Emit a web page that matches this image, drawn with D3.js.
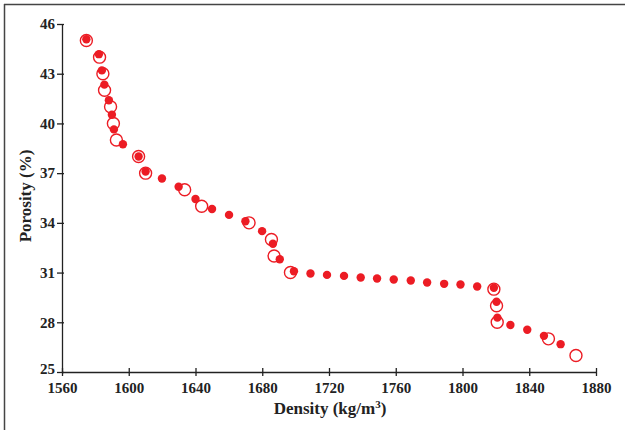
<!DOCTYPE html>
<html>
<head>
<meta charset="utf-8">
<script src="https://cdn.jsdelivr.net/npm/d3@7"></script>
<style>
  body { margin: 0; background: #fff; }
</style>
</head>
<body>
<div class="plot"></div>
<script>
// filled dots
var densityFilled = [1574.6, 1582.1, 1583.9, 1585.4, 1588.1, 1589.9, 1591.1, 1596.5, 1605.9, 1610.1,
  1619.9, 1629.9, 1640.0, 1649.9, 1660.1, 1669.9, 1679.9, 1686.4, 1690.5, 1699.0,
  1708.9, 1718.8, 1729.0, 1739.0, 1748.8, 1758.8, 1769.0, 1778.8, 1789.0, 1798.8,
  1808.8, 1818.8, 1820.4, 1820.9, 1828.7, 1838.8, 1848.8, 1858.8];
var porosityFilled = [45.08, 44.18, 43.2, 42.34, 41.4, 40.52, 39.64, 38.74, 38.0, 37.1,
  36.68, 36.18, 35.44, 34.84, 34.48, 34.1, 33.5, 32.74, 31.8, 31.08,
  30.94, 30.86, 30.8, 30.7, 30.64, 30.58, 30.52, 30.4, 30.32, 30.28,
  30.16, 30.08, 29.24, 28.28, 27.84, 27.55, 27.18, 26.68];

// open circles
var densityOpen = [1574.6, 1582.5, 1584.5, 1585.5, 1589.1, 1590.8, 1592.6, 1605.9, 1610.1, 1633.5,
  1643.7, 1672.1, 1685.5, 1687.1, 1696.9, 1818.8, 1820.4, 1820.8, 1851.5, 1868.0];
var porosityOpen = [45, 44, 43, 42, 41, 40, 39, 38, 37, 36,
  35, 34, 33, 32, 31, 30, 29, 28, 27, 26];

var xTicks = [1560, 1600, 1640, 1680, 1720, 1760, 1800, 1840, 1880];
var yTicks = [25, 28, 31, 34, 37, 40, 43, 46];

var serif = "'Liberation Serif', 'Times New Roman', serif";

var margin = {top: 24, right: 29, bottom: 58, left: 62},
    width = 625 - margin.left - margin.right,
    height = 430 - margin.top - margin.bottom;

var svg = d3.select(".plot")
    .append("svg")
    .attr("width", 625)
    .attr("height", 430);

// frame (only top and left edge show in the picture)
svg.append("line")
    .attr("x1", 4).attr("y1", 4.5).attr("x2", 625).attr("y2", 4.5)
    .style("stroke", "#444").style("stroke-width", 1.5);
svg.append("line")
    .attr("x1", 4.5).attr("y1", 4).attr("x2", 4.5).attr("y2", 430)
    .style("stroke", "#444").style("stroke-width", 1.5);

var g = svg.append("g")
    .attr("transform", "translate(" + margin.left + "," + margin.top + ")");

var x = d3.scaleLinear().domain([1560, 1880]).range([0, width]);
var y = d3.scaleLinear().domain([25, 46]).range([height, 0]);

var xAxis = g.append("g")
    .attr("transform", "translate(0," + height + ")")
    .call(d3.axisBottom(x).tickValues(xTicks).tickFormat(d3.format("d"))
      .tickSize(4).tickSizeOuter(0).tickPadding(6));
var yAxis = g.append("g")
    .call(d3.axisLeft(y).tickValues(yTicks).tickFormat(d3.format("d"))
      .tickSize(5).tickSizeOuter(0).tickPadding(2));

// ticks cross the axis line
xAxis.selectAll(".tick line").attr("y1", -4);
yAxis.selectAll(".tick line").attr("x1", 2).attr("x2", -5);
g.selectAll(".domain").style("stroke", "#222").style("stroke-width", 1.3);
g.selectAll(".tick line").style("stroke", "#222").style("stroke-width", 1.3);
g.selectAll(".tick text")
    .style("font-family", serif)
    .style("font-weight", "bold")
    .style("font-size", "15px")
    .style("fill", "#222");
xAxis.selectAll(".tick text").attr("dy", "0.75em");
// 25 sits a little above the axis
yAxis.selectAll(".tick text").filter(function(d){ return d == 25; }).attr("dy", "0.1em");

var red = "#ec1c24";

var openData = densityOpen.map(function(d, i){ return {density: d, porosity: porosityOpen[i]}; });
var filledData = densityFilled.map(function(d, i){ return {density: d, porosity: porosityFilled[i]}; });

g.selectAll(".open")
    .data(openData)
    .enter().append("circle")
    .attr("class", "open")
    .attr("cx", function(d){ return x(d.density); })
    .attr("cy", function(d){ return y(d.porosity); })
    .attr("r", 6)
    .style("fill", "#fff")
    .style("stroke", red)
    .style("stroke-width", 1.4);

g.selectAll(".filled")
    .data(filledData)
    .enter().append("circle")
    .attr("class", "filled")
    .attr("cx", function(d){ return x(d.density); })
    .attr("cy", function(d){ return y(d.porosity); })
    .attr("r", 4.2)
    .style("fill", red);

// axis titles
svg.append("text")
    .attr("x", 330)
    .attr("y", 414)
    .attr("text-anchor", "middle")
    .style("font-family", serif)
    .style("font-weight", "bold")
    .style("font-size", "17px")
    .style("fill", "#222")
    .html("Density (kg/m<tspan dy='-6' font-size='11px'>3</tspan><tspan dy='6'>)</tspan>");

svg.append("text")
    .attr("transform", "translate(31,196) rotate(-90)")
    .attr("text-anchor", "middle")
    .style("font-family", serif)
    .style("font-weight", "bold")
    .style("font-size", "17px")
    .style("fill", "#222")
    .text("Porosity (%)");
</script>
</body>
</html>
